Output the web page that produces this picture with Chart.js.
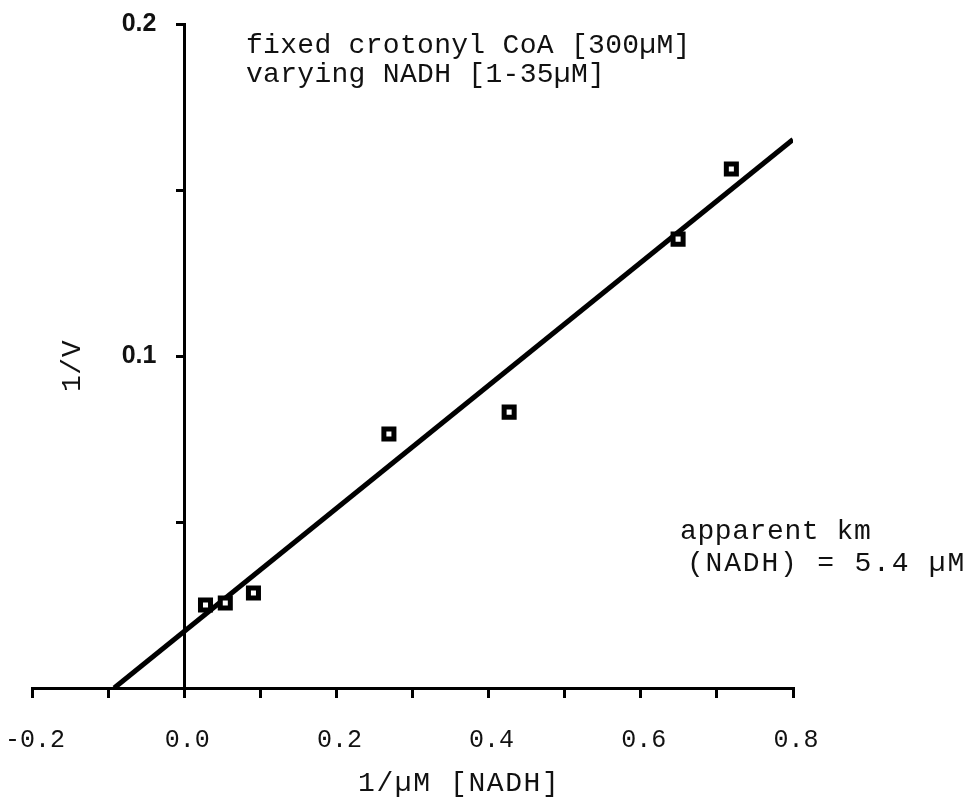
<!DOCTYPE html>
<html>
<head>
<meta charset="utf-8">
<script src="https://cdn.jsdelivr.net/npm/chart.js@4.4.1/dist/chart.umd.min.js"></script>
<style>
  body { margin: 0; background: #fff; }
  .wrap { position: relative; width: 975px; height: 807px; }
</style>
</head>
<body>
<div class="wrap"><canvas id="lwbChart"></canvas></div>
<script>
"use strict";

// Lineweaver-Burk data, 1/[NADH] against 1/V
const nadhInv = [0.028, 0.054, 0.091, 0.269, 0.427, 0.649, 0.719];
const rateInv = [0.025, 0.0256, 0.0286, 0.0765, 0.0831, 0.1352, 0.1563];

// fitted line, from the x intercept to the end of the axis
const fitX = [-0.092, 0.8];
const fitY = [0, 0.1652];

const xTicks = ["-0.2", "0.0", "0.2", "0.4", "0.6", "0.8"];
const yTicks = ["0.1", "0.2"];

const mono = "Liberation Mono, DejaVu Sans Mono, monospace";

function textLine(ctx, str, x, y, size, spacing) {
  ctx.font = size + "px " + mono;
  ctx.letterSpacing = spacing + "px";
  ctx.fillText(str, x, y);
}

// titles and notes around the plot
const notes = {
  id: "notes",
  afterDraw(chart) {
    const ctx = chart.ctx;
    ctx.save();
    ctx.fillStyle = "#111";
    ctx.textAlign = "left";
    ctx.textBaseline = "alphabetic";
    textLine(ctx, "fixed crotonyl CoA [300\u00b5M]", 246, 53, 28, 0.3);
    textLine(ctx, "varying NADH [1-35\u00b5M]", 246, 82, 28, 0.3);
    textLine(ctx, "apparent km", 680, 539, 28, 0.6);
    textLine(ctx, "(NADH) = 5.4 \u00b5M", 687, 571, 28, 1.8);
    textLine(ctx, "1/\u00b5M [NADH]", 358, 791, 28, 1.6);

    ctx.translate(80, 366);
    ctx.rotate(-Math.PI / 2);
    ctx.textAlign = "center";
    textLine(ctx, "1/V", 0, 0, 28, 0.5);
    ctx.restore();
  },
};

// keep the tick labels from widening the plot area
function noPadding(scale) {
  scale.paddingLeft = 0;
  scale.paddingRight = 0;
  scale.paddingTop = 0;
  scale.paddingBottom = 0;
}

const ctx = document.getElementById("lwbChart");

new Chart(ctx, {
  type: "scatter",
  data: {
    datasets: [
      {
        label: "1/V",
        data: nadhInv.map((x, i) => ({ x: x, y: rateInv[i] })),
        pointStyle: "rect",
        pointRadius: 7.1,
        pointBorderWidth: 5,
        pointBackgroundColor: "#fff",
        pointBorderColor: "#000",
      },
      {
        label: "fit",
        data: fitX.map((x, i) => ({ x: x, y: fitY[i] })),
        showLine: true,
        borderColor: "#000",
        borderWidth: 5,
        pointRadius: 0,
      },
    ],
  },
  options: {
    responsive: true,
    maintainAspectRatio: false,
    animation: false,
    devicePixelRatio: 1,
    layout: {
      padding: { left: 32, right: 182, top: 24, bottom: 49 },
    },
    plugins: {
      legend: { display: false },
      tooltip: { enabled: false },
    },
    scales: {
      x: {
        type: "linear",
        position: "bottom",
        min: -0.2,
        max: 0.8,
        afterFit(scale) {
          scale.height = 70;
          noPadding(scale);
        },
        border: { display: true, color: "#000", width: 3 },
        grid: {
          drawOnChartArea: false,
          color: "#000",
          lineWidth: 3,
          tickLength: 10,
        },
        ticks: {
          stepSize: 0.1,
          autoSkip: false,
          maxRotation: 0,
          padding: 27,
          labelOffset: 3,
          color: "#111",
          font: { family: mono, size: 25 },
          callback: (v) => {
            const label = v.toFixed(1).replace("-0.0", "0.0");
            return xTicks.includes(label) ? label : "";
          },
        },
      },
      y: {
        type: "linear",
        position: { x: 0 },
        min: 0,
        max: 0.2,
        afterFit: noPadding,
        border: { display: true, color: "#000", width: 3 },
        grid: {
          drawOnChartArea: false,
          color: "#000",
          lineWidth: 3,
          tickLength: 7,
        },
        ticks: {
          stepSize: 0.05,
          color: "#111",
          font: { family: "Liberation Sans, Arial, sans-serif", size: 25, weight: "bold" },
          // the axis sits at x = 0, so the labels are pushed off it with trailing spaces
          callback: (v) => {
            const label = v.toFixed(1);
            return Math.abs(v - Number(label)) < 1e-6 && yTicks.includes(label) ? label + "    " : "";
          },
        },
      },
    },
  },
  plugins: [notes],
});
</script>
</body>
</html>
